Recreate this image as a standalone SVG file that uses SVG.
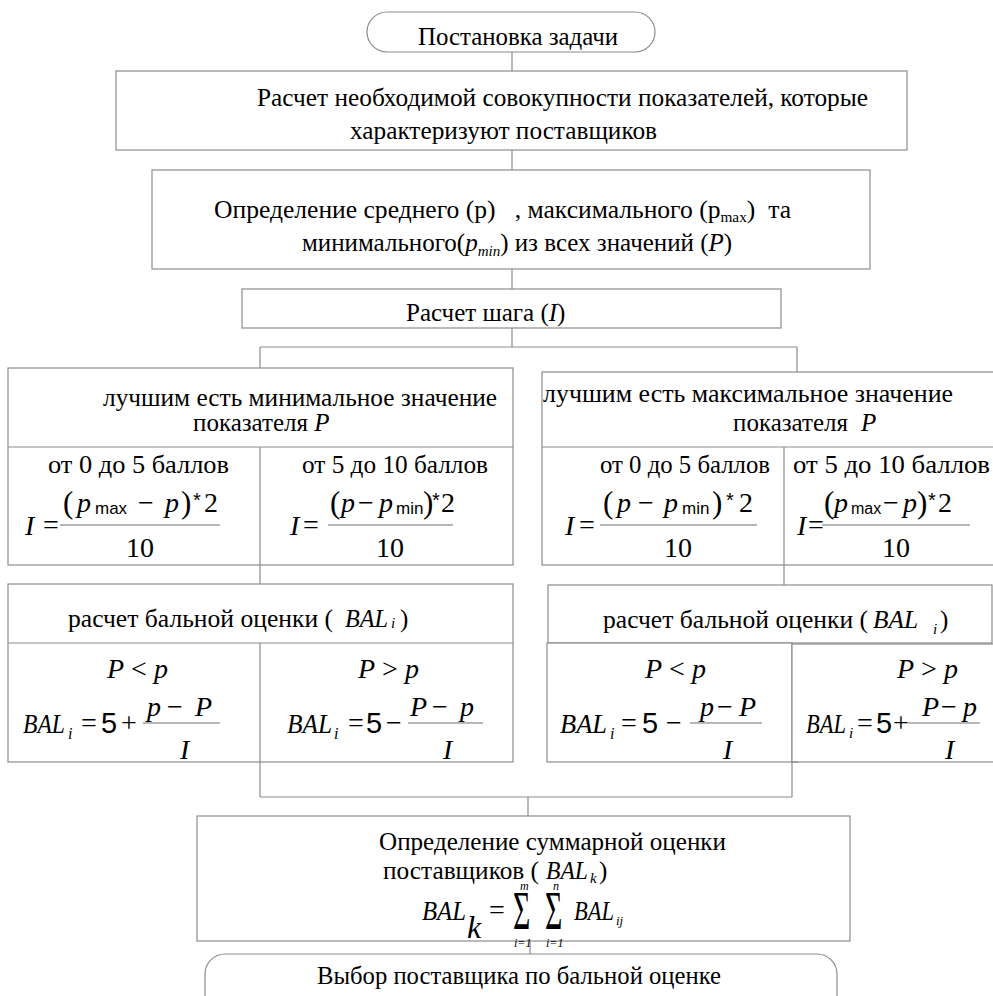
<svg xmlns="http://www.w3.org/2000/svg" width="993" height="996" viewBox="0 0 993 996">
<style>
.box{fill:#fff;stroke:#8c8c8c;stroke-width:1.2}
.ln{stroke:#8c8c8c;stroke-width:1.2;fill:none}
.fr{stroke:#6e6e6e;stroke-width:1}
text{font-family:"Liberation Serif","Times New Roman",serif;fill:#000;font-size:25px}
.m{font-size:28px}
.i{font-style:italic}
.a{font-family:"Liberation Sans",Arial,sans-serif}
.c{text-anchor:middle}
.pre{white-space:pre}
</style>
<rect width="993" height="996" fill="#fff"/>

<g id="connectors">
<path class="ln" d="M512,52V71M512,150V170M512,269V289M512,328V347M260,347H797M260,347V368M797,347V372M260,565V584M784,565V585M260,762V797M792,762V797M260,797H792M528,797V816M530,941V954"/>
</g>

<g id="start">
<rect class="box" x="367" y="12" width="288" height="40" rx="20"/>
<text x="418" y="45" textLength="200" lengthAdjust="spacingAndGlyphs">Постановка задачи</text>
</g>

<g id="calc-indicators">
<rect class="box" x="116" y="71" width="791" height="79"/>
<text x="257" y="106" textLength="611" lengthAdjust="spacingAndGlyphs">Расчет необходимой совокупности показателей, которые</text>
<text x="350" y="139" textLength="307" lengthAdjust="spacingAndGlyphs">характеризуют поставщиков</text>
</g>

<g id="define-values">
<rect class="box" x="152" y="170" width="718" height="99"/>
<text class="pre" x="214" y="218" textLength="577" lengthAdjust="spacingAndGlyphs">Определение среднего (p)   , максимального (p<tspan style="font-size:15px" dy="4">max</tspan><tspan dy="-4">)  та</tspan></text>
<text x="302" y="251">минимального(<tspan class="i">p</tspan><tspan class="i" style="font-size:15px" dy="5">min</tspan><tspan dy="-5">) из всех значений (</tspan><tspan class="i">P</tspan>)</text>
</g>

<g id="step">
<rect class="box" x="242" y="289" width="539" height="39"/>
<text x="406" y="321">Расчет шага (<tspan class="i">I</tspan>)</text>
</g>

<g id="min-best">
<rect class="box" x="8" y="368" width="505" height="197"/>
<path class="ln" d="M8,447H513M260,447V565"/>
<text x="103" y="406" textLength="394" lengthAdjust="spacingAndGlyphs">лучшим есть минимальное значение</text>
<text x="193" y="431">показателя <tspan class="i">P</tspan></text>
<text x="48" y="473" textLength="181" lengthAdjust="spacingAndGlyphs">от 0 до 5 баллов</text>
<text x="302" y="473" textLength="186" lengthAdjust="spacingAndGlyphs">от 5 до 10 баллов</text>
<text class="m i" x="25" y="535">I</text>
<text class="m" x="43" y="534">=</text>
<line class="fr" x1="60" y1="525" x2="220" y2="525"/>
<text class="m" style="font-size:31px" x="63" y="513">(</text>
<text class="m i" x="77" y="512">p</text>
<text class="a" style="font-size:17px" x="95" y="514">max</text>
<text class="m" x="138" y="512">−</text>
<text class="m i" x="165" y="512">p</text>
<text class="m" style="font-size:31px" x="181" y="513">)</text>
<text class="a" style="font-size:20px" x="193" y="507">*</text>
<text class="m" x="204" y="512">2</text>
<text class="m c" x="140" y="557">10</text>
<text class="m i" x="290" y="535">I</text>
<text class="m" x="303" y="534">=</text>
<line class="fr" x1="328" y1="525" x2="453" y2="525"/>
<text class="m" style="font-size:31px" x="330" y="513">(</text>
<text class="m i" x="341" y="512">p</text>
<text class="m" x="358" y="512">−</text>
<text class="m i" x="379" y="512">p</text>
<text class="a" style="font-size:17px" x="396" y="514">min</text>
<text class="m" style="font-size:31px" x="423" y="513">)</text>
<text class="a" style="font-size:20px" x="432" y="507">*</text>
<text class="m" x="441" y="512">2</text>
<text class="m c" x="390" y="557">10</text>
</g>

<g id="max-best">
<rect class="box" x="542" y="372" width="460" height="193"/>
<path class="ln" d="M542,447H1002M784,447V565"/>
<text x="543" y="402" textLength="410" lengthAdjust="spacingAndGlyphs">лучшим есть максимальное значение</text>
<text x="733" y="431">показателя</text>
<text class="i" x="861" y="431">P</text>
<text x="600" y="473" textLength="170" lengthAdjust="spacingAndGlyphs">от 0 до 5 баллов</text>
<text x="793" y="473" textLength="197" lengthAdjust="spacingAndGlyphs">от 5 до 10 баллов</text>
<text class="m i" x="565" y="535">I</text>
<text class="m" x="579" y="534">=</text>
<line class="fr" x1="600" y1="525" x2="757" y2="525"/>
<text class="m" style="font-size:31px" x="603" y="513">(</text>
<text class="m i" x="617" y="512">p</text>
<text class="m" x="638" y="512">−</text>
<text class="m i" x="664" y="512">p</text>
<text class="a" style="font-size:17px" x="682" y="514">min</text>
<text class="m" style="font-size:31px" x="712" y="513">)</text>
<text class="a" style="font-size:20px" x="726" y="507">*</text>
<text class="m" x="739" y="512">2</text>
<text class="m c" x="678" y="557">10</text>
<text class="m i" x="797" y="535">I</text>
<text class="m" x="808" y="534">=</text>
<line class="fr" x1="822" y1="525" x2="970" y2="525"/>
<text class="m" style="font-size:31px" x="824" y="513">(</text>
<text class="m i" x="834" y="512">p</text>
<text class="a" style="font-size:16px" x="851" y="514">max</text>
<text class="m" x="883" y="512">−</text>
<text class="m i" x="903" y="512">p</text>
<text class="m" style="font-size:31px" x="917" y="513">)</text>
<text class="a" style="font-size:20px" x="928" y="507">*</text>
<text class="m" x="938" y="512">2</text>
<text class="m c" x="896" y="557">10</text>
</g>

<g id="bal-left">
<rect class="box" x="8" y="584" width="505" height="178"/>
<path class="ln" d="M8,643H513M260,643V762"/>
<text x="68" y="627" textLength="265" lengthAdjust="spacingAndGlyphs">расчет бальной оценки (</text>
<text class="i" x="345" y="627" textLength="43" lengthAdjust="spacingAndGlyphs">BAL</text>
<text class="i" style="font-size:15px" x="391" y="628">i</text>
<text x="400" y="627">)</text>
<text class="m" x="107" y="678"><tspan class="i">P</tspan> &lt; <tspan class="i">p</tspan></text>
<text class="m i" x="23" y="733" textLength="42" lengthAdjust="spacingAndGlyphs">BAL</text>
<text class="i" style="font-size:16px" x="68" y="739">i</text>
<text class="m" x="81" y="732">=</text>
<text class="a" style="font-size:29px" x="101" y="733">5</text>
<text class="m" x="121" y="732">+</text>
<line class="fr" x1="143" y1="723" x2="220" y2="723"/>
<text class="m i" x="147" y="716">p</text>
<text class="m" x="167" y="716">−</text>
<text class="m i" x="195" y="716">P</text>
<text class="m i" x="180" y="759">I</text>
<text class="m" x="358" y="678"><tspan class="i">P</tspan> &gt; <tspan class="i">p</tspan></text>
<text class="m i" x="287" y="733" textLength="45" lengthAdjust="spacingAndGlyphs">BAL</text>
<text class="i" style="font-size:16px" x="334" y="739">i</text>
<text class="m" x="348" y="732">=</text>
<text class="a" style="font-size:29px" x="366" y="733">5</text>
<text class="m" x="386" y="732">−</text>
<line class="fr" x1="408" y1="723" x2="483" y2="723"/>
<text class="m i" x="410" y="716">P</text>
<text class="m" x="432" y="716">−</text>
<text class="m i" x="460" y="716">p</text>
<text class="m i" x="443" y="759">I</text>
</g>

<g id="bal-right">
<rect class="box" x="548" y="585" width="444" height="58"/>
<rect class="box" x="547" y="643" width="245" height="119"/>
<rect class="box" x="792" y="644" width="210" height="118"/>
<path class="ln" d="M792,762H798"/>
<text x="603" y="628" textLength="265" lengthAdjust="spacingAndGlyphs">расчет бальной оценки (</text>
<text class="i" x="873" y="628" textLength="45" lengthAdjust="spacingAndGlyphs">BAL</text>
<text class="i" style="font-size:15px" x="933" y="634">i</text>
<text x="940" y="628">)</text>
<text class="m" x="645" y="678"><tspan class="i">P</tspan> &lt; <tspan class="i">p</tspan></text>
<text class="m i" x="560" y="733" textLength="47" lengthAdjust="spacingAndGlyphs">BAL</text>
<text class="i" style="font-size:16px" x="610" y="739">i</text>
<text class="m" x="621" y="732">=</text>
<text class="a" style="font-size:29px" x="642" y="733">5</text>
<text class="m" x="666" y="732">−</text>
<line class="fr" x1="690" y1="723" x2="762" y2="723"/>
<text class="m i" x="700" y="716">p</text>
<text class="m" x="717" y="716">−</text>
<text class="m i" x="739" y="716">P</text>
<text class="m i" x="723" y="759">I</text>
<text class="m" x="897" y="678"><tspan class="i">P</tspan> &gt; <tspan class="i">p</tspan></text>
<text class="m i" x="806" y="733" textLength="40" lengthAdjust="spacingAndGlyphs">BAL</text>
<text class="i" style="font-size:15px" x="849" y="738">i</text>
<text class="m" x="857" y="732">=</text>
<text class="a" style="font-size:29px" x="876" y="733">5</text>
<text class="m" x="893" y="732">+</text>
<line class="fr" x1="908" y1="723" x2="980" y2="723"/>
<text class="m i" x="922" y="716">P</text>
<text class="m" x="941" y="716">−</text>
<text class="m i" x="963" y="716">p</text>
<text class="m i" x="945" y="759">I</text>
</g>

<g id="total">
<rect class="box" x="197" y="816" width="653" height="125"/>
<text x="379" y="850" textLength="347" lengthAdjust="spacingAndGlyphs">Определение суммарной оценки</text>
<text x="383" y="879" textLength="156" lengthAdjust="spacingAndGlyphs">поставщиков (</text>
<text class="i" x="546" y="879" textLength="42" lengthAdjust="spacingAndGlyphs">BAL</text>
<text class="i" style="font-size:15px" x="590" y="883">k</text>
<text x="599" y="879">)</text>
<text class="m i" x="422" y="920" textLength="44" lengthAdjust="spacingAndGlyphs">BAL</text>
<text class="i" style="font-size:32px" x="467" y="938">k</text>
<text class="m" x="489" y="919">=</text>
<text style="font-size:27px" transform="translate(513,929) scale(1.1,2)">Σ</text>
<text class="i" style="font-size:12px" x="520" y="890">m</text>
<text class="i" style="font-size:12px" x="514" y="947">i=1</text>
<text style="font-size:27px" transform="translate(545,929) scale(1.1,2)">Σ</text>
<text class="i" style="font-size:12px" x="553" y="890">n</text>
<text class="i" style="font-size:12px" x="546" y="947">i=1</text>
<text class="m i" x="574" y="920" textLength="40" lengthAdjust="spacingAndGlyphs">BAL</text>
<text class="i" style="font-size:13px" x="616" y="925">ij</text>
</g>

<g id="choice">
<rect class="box" x="205" y="954" width="632" height="70" rx="20"/>
<text x="317" y="984" textLength="404" lengthAdjust="spacingAndGlyphs">Выбор поставщика по бальной оценке</text>
</g>
</svg>
